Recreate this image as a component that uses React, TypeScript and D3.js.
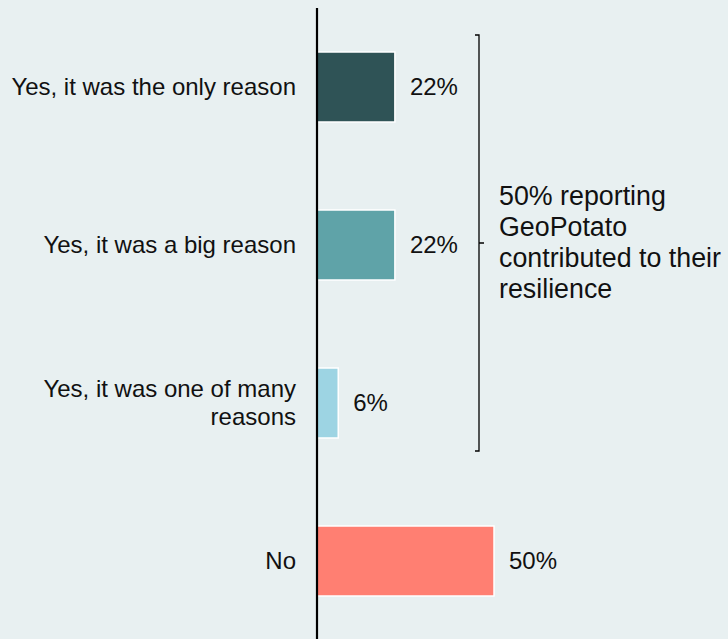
import React from "react";
import * as d3 from "d3";

const categories: string[][] = [
  ["Yes, it was the only reason"],
  ["Yes, it was a big reason"],
  ["Yes, it was one of many", "reasons"],
  ["No"],
];
const values: number[] = [22, 22, 6, 50];
const colors: string[] = ["#2f5356", "#5fa3a8", "#9dd4e3", "#ff7f72"];
const annotationLines: string[] = ["50% reporting", "GeoPotato", "contributed to their", "resilience"];

const W = 728;
const H = 639;
const FONT = "'Liberation Sans', Arial, Helvetica, sans-serif";

export default function App() {
  const x = d3.scaleLinear().domain([0, 50]).range([317, 494]);
  const y = d3
    .scaleBand<number>()
    .domain(d3.range(categories.length))
    .range([8, 640])
    .paddingInner(0.557)
    .paddingOuter(0.2785);
  const bw = y.bandwidth();
  const cy = (i: number) => (y(i) as number) + bw / 2;

  const bracketTop = 35;
  const bracketBottom = 451;
  const bracketX = 479;
  const bracketMid = (cy(0) + cy(2)) / 2 - 2;
  const annLH = 31;

  return (
    <svg
      width={W}
      height={H}
      style={{ position: "absolute", left: 0, top: 0, background: "#e8f0f1" }}
      fontFamily={FONT}
    >
      <rect x={0} y={0} width={W} height={H} fill="#e8f0f1" />
      {values.map((v, i) => (
        <g key={i}>
          <rect
            x={x(0)}
            y={y(i)}
            width={x(v) - x(0)}
            height={bw}
            fill={colors[i]}
            stroke="#ffffff"
            strokeWidth={1.5}
          />
          <text x={x(v) + 15} y={cy(i) + 8} fontSize={24} fill="#111">
            {v}%
          </text>
          {categories[i].map((line, j) => (
            <text
              key={j}
              x={296}
              y={cy(i) + 8 - ((categories[i].length - 1) * 28) / 2 + j * 28}
              fontSize={24}
              textAnchor="end"
              fill="#111"
            >
              {line}
            </text>
          ))}
        </g>
      ))}
      <line x1={317} x2={317} y1={8} y2={H} stroke="#000" strokeWidth={2.2} />
      <path
        d={`M${bracketX - 4},${bracketTop} H${bracketX} V${bracketBottom} H${bracketX - 4} M${bracketX},${bracketMid} H${bracketX + 5}`}
        fill="none"
        stroke="#000"
        strokeWidth={1.3}
      />
      {annotationLines.map((line, j) => (
        <text
          key={j}
          x={499}
          y={bracketMid + 8 - ((annotationLines.length - 1) * annLH) / 2 + j * annLH}
          fontSize={26.8}
          fill="#111"
        >
          {line}
        </text>
      ))}
    </svg>
  );
}
